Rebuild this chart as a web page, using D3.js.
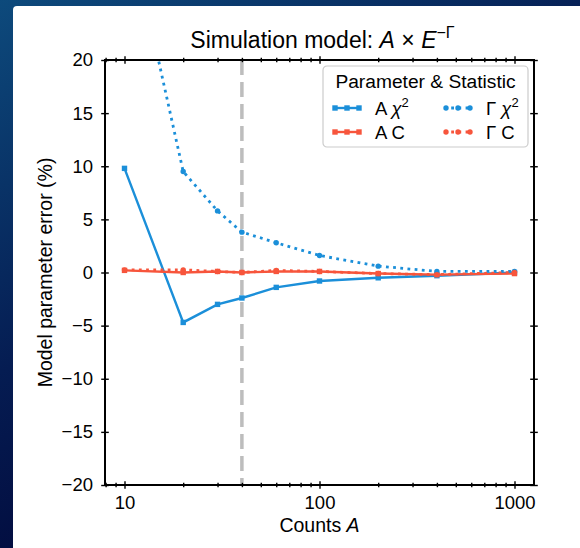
<!DOCTYPE html>
<meta charset="utf-8">
<style>
body { margin: 0; }
svg { display: block; font-family: "Liberation Sans", Arial, sans-serif; }
.axis path, .axis line { stroke: #000; }
.axis text { font-size: 18.5px; fill: #000; font-family: "Liberation Sans", Arial, sans-serif; }
</style>
<svg width="580" height="548"></svg>
<script src="https://cdn.jsdelivr.net/npm/d3@7"></script>
<script>
// counts A
var counts = [10, 20, 30, 40, 60, 100, 200, 400, 1000];
// model parameter error (%)
var aChi2 = [9.8, -4.7, -3.0, -2.4, -1.4, -0.8, -0.5, -0.3, 0.0];
var gChi2 = [34.4, 9.5, 5.8, 3.8, 2.8, 1.6, 0.6, 0.1, 0.1];
var aC = [0.2, 0.0, 0.1, 0.0, 0.1, 0.1, -0.1, -0.2, -0.1];
var gC = [0.25, 0.25, 0.1, 0.0, 0.2, 0.1, -0.1, -0.2, 0.0];
var cutLine = 40;
var xTicks = [10, 100, 1000];
var yTicks = [-20, -15, -10, -5, 0, 5, 10, 15, 20];

var blue = "#1b8fd9", red = "#f7553c";

var svg = d3.select("svg"),
    margin = {top: 60, right: 46, bottom: 63, left: 105},
    W = +svg.attr("width"), H = +svg.attr("height");

var x = d3.scaleLog().domain([Math.pow(10, 0.9), Math.pow(10, 3.1)]).range([margin.left, W - margin.right]),
    y = d3.scaleLinear().domain([-20, 20]).range([H - margin.bottom, margin.top]);

// background
var defs = svg.append("defs");
var grad = defs.append("linearGradient").attr("id", "bg")
    .attr("x1", "0").attr("y1", "0").attr("x2", "0.6").attr("y2", "1");
grad.append("stop").attr("offset", "0").attr("stop-color", "#0d4a7c");
grad.append("stop").attr("offset", "0.5").attr("stop-color", "#051c52");
grad.append("stop").attr("offset", "1").attr("stop-color", "#000030");
svg.append("rect").attr("width", W).attr("height", H).attr("fill", "url(#bg)");
svg.append("rect").attr("x", 13).attr("y", 6).attr("width", W).attr("height", H)
    .attr("rx", 4).attr("fill", "#fff");

defs.append("clipPath").attr("id", "clip").append("rect")
    .attr("x", x.range()[0]).attr("y", y.range()[1])
    .attr("width", x.range()[1] - x.range()[0])
    .attr("height", y.range()[0] - y.range()[1]);

var plot = svg.append("g").attr("clip-path", "url(#clip)");

// vertical cut line
plot.append("line")
    .attr("x1", x(cutLine)).attr("x2", x(cutLine))
    .attr("y1", y.range()[1]).attr("y2", y.range()[0])
    .attr("stroke", "#bdbdbd").attr("stroke-width", 3.5)
    .attr("stroke-dasharray", "15,7");

var series = [
  {name: "A", stat: "chi", values: aChi2, color: blue, dotted: false},
  {name: "A", stat: "C", values: aC, color: red, dotted: false},
  {name: "G", stat: "chi", values: gChi2, color: blue, dotted: true},
  {name: "G", stat: "C", values: gC, color: red, dotted: true}
];

var line = d3.line()
    .x(function(d) { return x(d[0]); })
    .y(function(d) { return y(d[1]); });

series.forEach(function(s) {
  var pts = counts.map(function(c, i) { return [c, s.values[i]]; });
  plot.append("path")
      .datum(pts)
      .attr("fill", "none")
      .attr("stroke", s.color)
      .attr("stroke-width", s.dotted ? 2.8 : 2.4)
      .attr("stroke-dasharray", s.dotted ? "2.8,4.4" : null)
      .attr("d", line);
  drawMarkers(plot, pts.map(function(p) { return [x(p[0]), y(p[1])]; }), s);
});

function drawMarkers(g, xy, s) {
  if (s.dotted) {
    g.selectAll(null).data(xy).enter().append("circle")
        .attr("cx", function(d) { return d[0]; })
        .attr("cy", function(d) { return d[1]; })
        .attr("r", 2.7)
        .attr("fill", s.color);
  } else {
    g.selectAll(null).data(xy).enter().append("rect")
        .attr("x", function(d) { return d[0] - 2.7; })
        .attr("y", function(d) { return d[1] - 2.7; })
        .attr("width", 5.4).attr("height", 5.4)
        .attr("fill", s.color);
  }
}

// axes
var minor = [];
[1, 10, 100, 1000].forEach(function(dec) {
  for (var k = 2; k <= 9; k++) {
    var v = dec * k;
    if (v > x.domain()[0] && v < x.domain()[1]) minor.push(v);
  }
});

function inout(g, len, vertical) {
  g.selectAll(".tick line")
      .attr(vertical ? "y1" : "x1", -len)
      .attr(vertical ? "y2" : "x2", len)
      .attr("stroke-width", 1.4);
  g.select(".domain").remove();
}

var xAxis = svg.append("g").attr("class", "axis")
    .attr("transform", "translate(0," + y.range()[0] + ")")
    .call(d3.axisBottom(x).tickValues(xTicks).tickFormat(d3.format("d")).tickSize(4).tickPadding(6));
inout(xAxis, 3.8, true);
xAxis.selectAll("text").attr("dy", "0.75em");

var xMinor = svg.append("g").attr("class", "axis")
    .attr("transform", "translate(0," + y.range()[0] + ")")
    .call(d3.axisBottom(x).tickValues(minor).tickFormat("").tickSize(2));
inout(xMinor, 2.2, true);

var xTop = svg.append("g").attr("class", "axis")
    .attr("transform", "translate(0," + y.range()[1] + ")")
    .call(d3.axisTop(x).tickValues(xTicks).tickFormat("").tickSize(4));
inout(xTop, 3.8, true);
var xTopMinor = svg.append("g").attr("class", "axis")
    .attr("transform", "translate(0," + y.range()[1] + ")")
    .call(d3.axisTop(x).tickValues(minor).tickFormat("").tickSize(2));
inout(xTopMinor, 2.2, true);

var yAxis = svg.append("g").attr("class", "axis")
    .attr("transform", "translate(" + x.range()[0] + ",0)")
    .call(d3.axisLeft(y).tickValues(yTicks).tickFormat(d3.format("d")).tickSize(4).tickPadding(8));
inout(yAxis, 3.8, false);

var yRight = svg.append("g").attr("class", "axis")
    .attr("transform", "translate(" + x.range()[1] + ",0)")
    .call(d3.axisRight(y).tickValues(yTicks).tickFormat("").tickSize(4));
inout(yRight, 3.8, false);

// frame
svg.append("rect")
    .attr("x", x.range()[0]).attr("y", y.range()[1])
    .attr("width", x.range()[1] - x.range()[0])
    .attr("height", y.range()[0] - y.range()[1])
    .attr("fill", "none").attr("stroke", "#000").attr("stroke-width", 2);

// labels
var title = svg.append("text")
    .attr("x", (x.range()[0] + x.range()[1]) / 2 + 3).attr("y", 48)
    .attr("text-anchor", "middle").attr("font-size", 23);
title.append("tspan").text("Simulation model: ");
title.append("tspan").attr("font-style", "italic").text("A");
title.append("tspan").text(" \u00d7 ");
title.append("tspan").attr("font-style", "italic").text("E");
title.append("tspan").attr("font-size", 16).attr("dy", -10).text("\u2212\u0393");

var xl = svg.append("text")
    .attr("x", (x.range()[0] + x.range()[1]) / 2).attr("y", 532)
    .attr("text-anchor", "middle").attr("font-size", 19.5);
xl.append("tspan").text("Counts ");
xl.append("tspan").attr("font-style", "italic").text("A");

svg.append("text")
    .attr("transform", "translate(52," + y(0) + ") rotate(-90)")
    .attr("text-anchor", "middle").attr("font-size", 19.5)
    .text("Model parameter error (%)");

// legend
var lg = svg.append("g").attr("transform", "translate(323,66)");
lg.append("rect").attr("width", 205).attr("height", 81).attr("rx", 4)
    .attr("fill", "#fff").attr("stroke", "#cccccc").attr("stroke-width", 1.2);
lg.append("text").attr("x", 102.5).attr("y", 22).attr("text-anchor", "middle")
    .attr("font-size", 19.2).text("Parameter & Statistic");

var legendItems = [
  {s: series[0], col: 0, row: 0},
  {s: series[2], col: 1, row: 0},
  {s: series[1], col: 0, row: 1},
  {s: series[3], col: 1, row: 1}
];
legendItems.forEach(function(it) {
  var gx = 10 + it.col * 111, gy = 42 + it.row * 24;
  var g = lg.append("g").attr("transform", "translate(" + gx + "," + gy + ")");
  g.append("line").attr("x1", 0).attr("x2", 28).attr("y1", 0).attr("y2", 0)
      .attr("stroke", it.s.color)
      .attr("stroke-width", it.s.dotted ? 2.8 : 2.4)
      .attr("stroke-dasharray", it.s.dotted ? "2.8,4.4" : null);
  drawMarkers(g, [[2, 0], [14, 0], [26, 0]], it.s);
  var t = g.append("text").attr("x", 42).attr("y", 6.5).attr("font-size", 18.5);
  t.append("tspan").text(it.s.name === "A" ? "A " : "\u0393 ");
  if (it.s.stat === "chi") {
    t.append("tspan").attr("font-style", "italic").text("\u03c7");
    t.append("tspan").attr("font-size", 13).attr("dy", -8).text("2");
  } else {
    t.append("tspan").text("C");
  }
});
</script>
